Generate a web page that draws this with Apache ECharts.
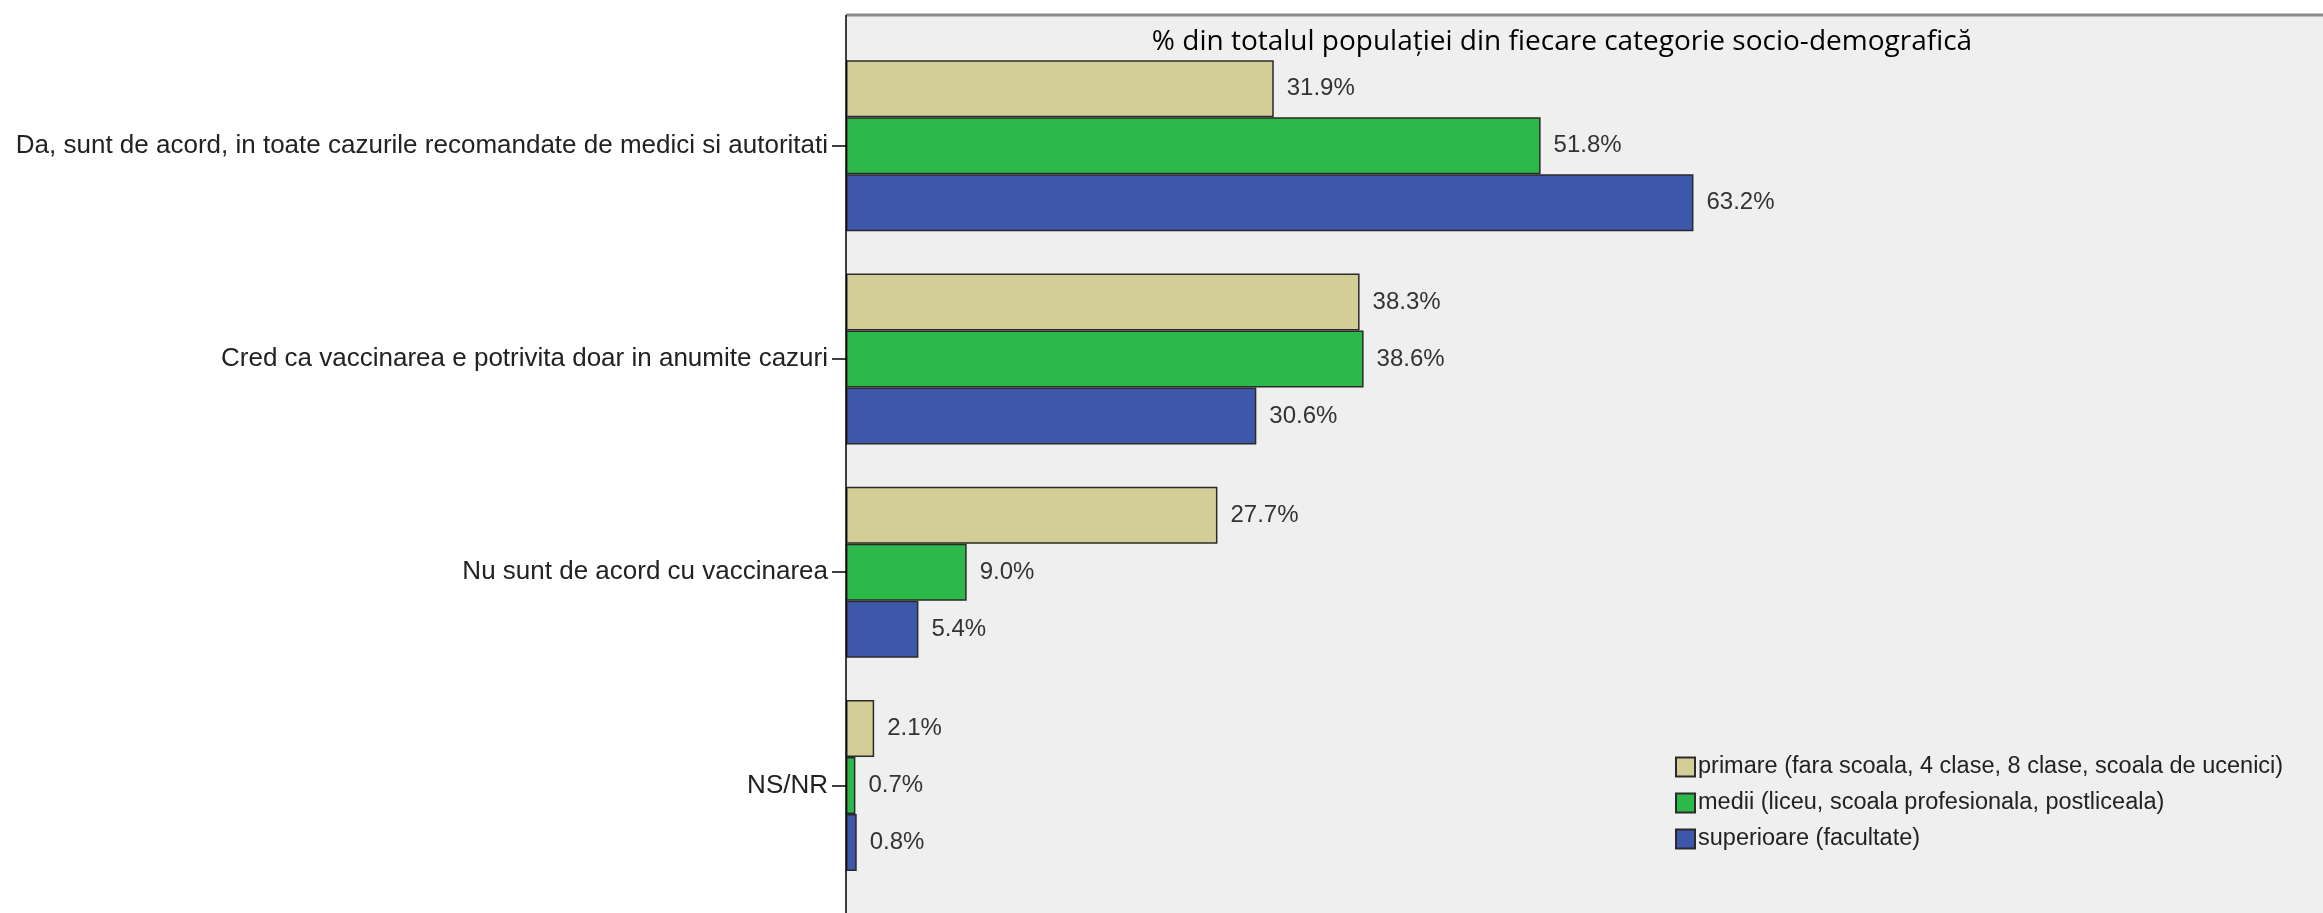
<!DOCTYPE html>
<html>
<head>
<meta charset="utf-8">
<script src="https://cdn.jsdelivr.net/npm/echarts@6/dist/echarts.min.js"></script>
<style>
  html, body { margin: 0; padding: 0; background: #ffffff; }
  #chart { width: 2323px; height: 913px; }
</style>
</head>
<body>
<div id="chart"></div>
<script>
const categories = [
  "Da, sunt de acord, in toate cazurile recomandate de medici si autoritati",
  "Cred ca vaccinarea e potrivita doar in anumite cazuri",
  "Nu sunt de acord cu vaccinarea",
  "NS/NR"
];
const seriesNames = [
  "primare (fara scoala, 4 clase, 8 clase, scoala de ucenici)",
  "medii (liceu, scoala profesionala, postliceala)",
  "superioare (facultate)"
];
const primare = [31.9, 38.3, 27.7, 2.1];
const medii = [51.8, 38.6, 9.0, 0.7];
const superioare = [63.2, 30.6, 5.4, 0.8];
const titleText = "% din totalul populației din fiecare categorie socio-demografică";

const colors = ['#D3CE97', '#2DB84A', '#3D58AA'];
const seriesData = [primare, medii, superioare];

const chart = echarts.init(document.getElementById('chart'), null, { renderer: 'canvas' });

const plotLeft = 846, plotTop = 15;

const option = {
  animation: false,
  backgroundColor: '#ffffff',
  title: {
    text: titleText,
    left: 1557,
    top: 23,
    textAlign: 'center',
    textStyle: { fontFamily: 'Open Sans', fontSize: 28, fontWeight: 'normal', color: '#000' }
  },
  legend: {
    orient: 'vertical',
    left: 1670,
    top: 750,
    itemWidth: 19,
    itemHeight: 19,
    itemGap: 12,
    icon: 'rect',
    textStyle: { fontFamily: 'Liberation Sans', fontSize: 23.5, color: '#222', padding: [0, 0, 0, -2] },
    data: seriesNames
  },
  graphic: [
    { type: 'rect', z: -10, shape: { x: plotLeft, y: plotTop, width: 2323 - plotLeft, height: 913 - plotTop }, style: { fill: '#EFEFEF' } },
    { type: 'line', z: 10, shape: { x1: plotLeft, y1: plotTop, x2: 2323, y2: plotTop }, style: { stroke: '#8a8a8a', lineWidth: 3 } },
    { type: 'line', z: 10, shape: { x1: plotLeft, y1: plotTop, x2: plotLeft, y2: 913 }, style: { stroke: '#000', lineWidth: 1.5 } }
  ],
  grid: { left: plotLeft, right: 2, top: 39, bottom: 21 },
  xAxis: {
    type: 'value',
    min: 0,
    max: 110,
    show: false
  },
  yAxis: {
    type: 'category',
    inverse: true,
    data: categories,
    axisLine: { show: false },
    axisTick: { show: true, alignWithLabel: true, length: 14, lineStyle: { color: '#000', width: 1.5 } },
    axisLabel: { margin: 18, fontFamily: 'Liberation Sans', fontSize: 26, color: '#222' },
    splitLine: { show: false }
  },
  series: seriesData.map((d, i) => ({
    name: seriesNames[i],
    type: 'bar',
    data: d,
    barWidth: 57,
    barGap: '0%',
    itemStyle: { color: colors[i], borderColor: '#2a2a2a', borderWidth: 1.5 },
    label: {
      show: true,
      position: 'right',
      distance: 13,
      fontFamily: 'Liberation Sans',
      fontSize: 24,
      color: '#333',
      formatter: p => p.value.toFixed(1) + '%'
    }
  }))
};
chart.setOption(option);
</script>
</body>
</html>
